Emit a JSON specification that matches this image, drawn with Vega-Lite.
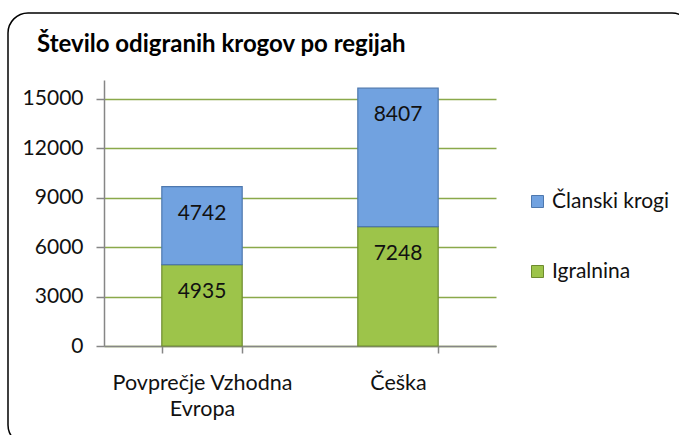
{
  "$schema": "https://vega.github.io/schema/vega-lite/v6.json",
  "autosize": {"type": "none"},
  "padding": {"left": 8, "top": 13, "right": 0, "bottom": 0},
  "width": 684,
  "height": 432,
  "background": "white",
  "config": {
    "view": {"stroke": "#000000", "strokeWidth": 1.5, "cornerRadius": 20, "fill": "white"},
    "font": "Lato",
    "title": {"font": "Lato", "fontSize": 24, "fontWeight": "bold", "color": "#000000"}
  },
  "title": {
    "text": "Število odigranih krogov po regijah",
    "anchor": "start",
    "frame": "group",
    "orient": "top",
    "offset": 0,
    "baseline": "alphabetic",
    "dx": 29,
    "dy": 63
  },
  "data": {
    "values": [
      {"region": "Povprečje Vzhodna Evropa", "series": "Igralnina", "value": 4935},
      {"region": "Povprečje Vzhodna Evropa", "series": "Članski krogi", "value": 4742},
      {"region": "Češka", "series": "Igralnina", "value": 7248},
      {"region": "Češka", "series": "Članski krogi", "value": 8407}
    ]
  },
  "transform": [
    {"stack": "value", "groupby": ["region"], "sort": [{"field": "series", "order": "ascending"}], "as": ["y0", "y1"]}
  ],
  "encoding": {
    "x": {
      "field": "region",
      "type": "nominal",
      "sort": ["Povprečje Vzhodna Evropa", "Češka"],
      "scale": {"range": [96, 488], "paddingInner": 0.59, "paddingOuter": 0.295},
      "axis": {
        "title": null,
        "offset": -99,
        "labelAngle": 0,
        "labelFont": "Lato",
        "labelFontSize": 21.5,
        "labelColor": "#111111",
        "labelPadding": 19,
        "labelLineHeight": 26,
        "labelLimit": 400,
        "labelExpr": "datum.label == 'Povprečje Vzhodna Evropa' ? ['Povprečje Vzhodna', 'Evropa'] : datum.label",
        "tickBand": "extent",
        "tickSize": 7,
        "tickColor": "#868686",
        "tickWidth": 1.5,
        "domainColor": "#868686",
        "domainWidth": 1.5,
        "grid": false
      }
    }
  },
  "layer": [
    {
      "mark": {"type": "bar", "strokeWidth": 1.2},
      "encoding": {
        "y": {
          "field": "y1",
          "type": "quantitative",
          "scale": {"domain": [0, 16150], "range": [333, 67], "nice": false, "zero": true},
          "axis": {
            "title": null,
            "offset": -96,
            "values": [0, 3000, 6000, 9000, 12000, 15000],
            "format": "d",
            "labelFont": "Lato",
            "labelFontSize": 21,
            "labelColor": "#111111",
            "labelPadding": 13,
            "tickSize": 8,
            "tickColor": "#868686",
            "tickWidth": 1.5,
            "domainColor": "#868686",
            "domainWidth": 1.5,
            "grid": true,
            "gridColor": "#8AA94A",
            "gridWidth": 1.5
          }
        },
        "y2": {"field": "y0"},
        "color": {
          "field": "series",
          "type": "nominal",
          "scale": {"domain": ["Članski krogi", "Igralnina"], "range": ["#71A2E0", "#9DC44A"]},
          "legend": {
            "title": null,
            "orient": "none",
            "legendX": 519,
            "legendY": 178,
            "symbolType": "square",
            "symbolSize": 144,
            "symbolStrokeWidth": 1,
            "labelFont": "Lato",
            "labelFontSize": 21,
            "labelColor": "#111111",
            "labelOffset": 4,
            "rowPadding": 48
          }
        },
        "stroke": {
          "field": "series",
          "type": "nominal",
          "scale": {"domain": ["Članski krogi", "Igralnina"], "range": ["#4E78AE", "#6E8B2E"]},
          "legend": null
        }
      }
    },
    {
      "mark": {"type": "text", "baseline": "middle", "align": "center", "dy": 27, "fontSize": 21, "font": "Lato", "color": "#111111"},
      "encoding": {
        "y": {"field": "y1", "type": "quantitative"},
        "text": {"field": "value", "type": "quantitative", "format": "d"}
      }
    }
  ]
}
